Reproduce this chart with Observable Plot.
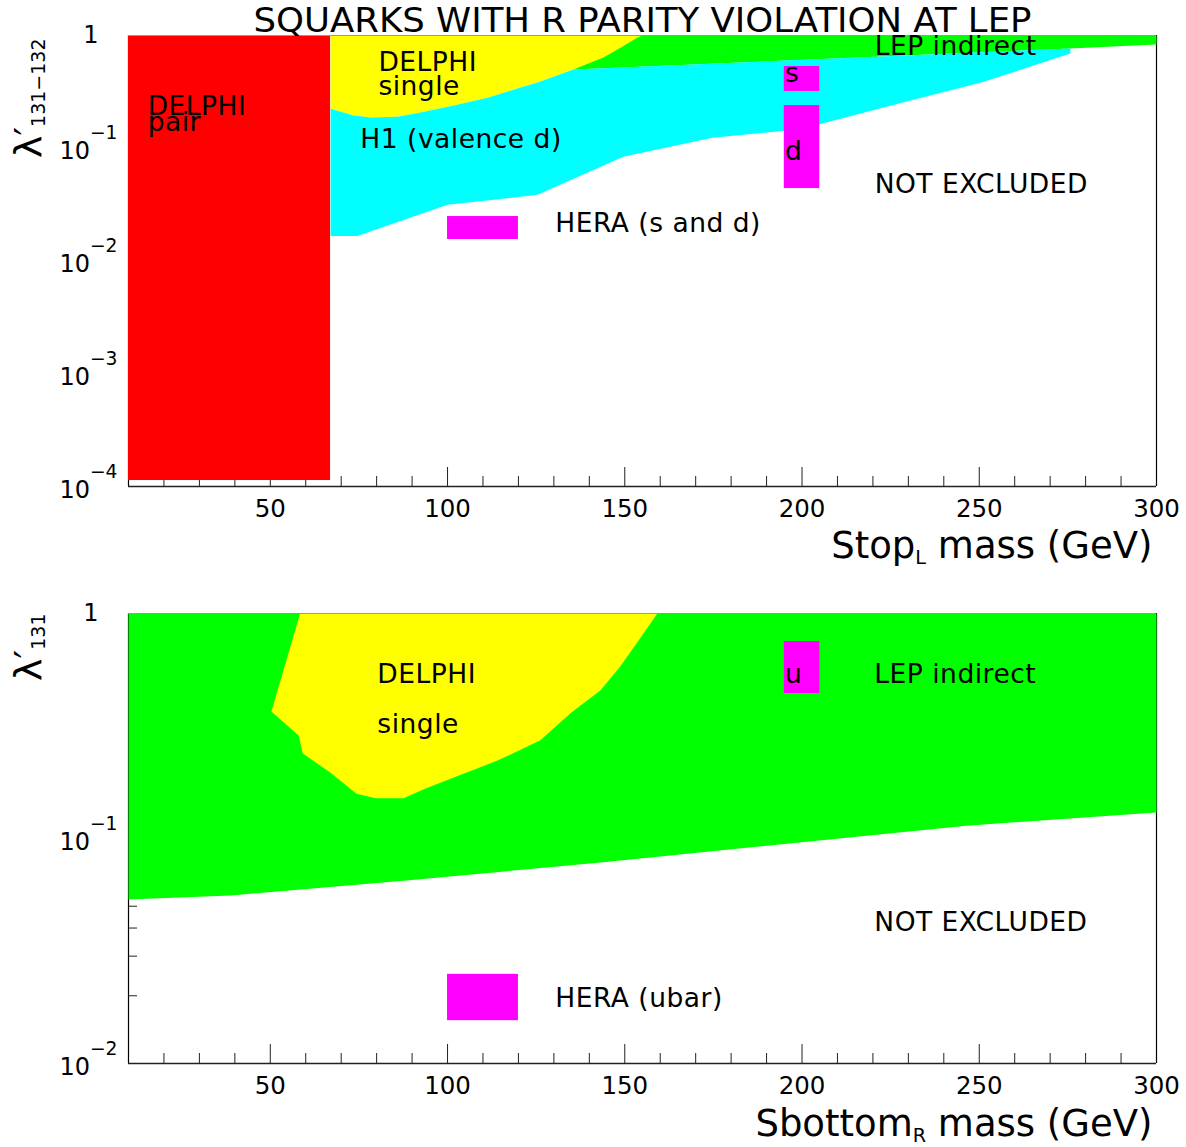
<!DOCTYPE html>
<html><head><meta charset="utf-8">
<script src="https://cdn.jsdelivr.net/npm/d3@7"></script>
<script src="https://cdn.jsdelivr.net/npm/@observablehq/plot@0.6"></script>
<style>
html,body{margin:0;padding:0;background:#fff;}
#chart{width:1186px;height:1147px;position:relative;background:#fff;}
#chart svg{display:block;}
</style></head><body><div id="chart"></div>
<script>
// ---------- data ----------
const title = "SQUARKS WITH R PARITY VIOLATION AT LEP";
const massTicksMajor = [50, 100, 150, 200, 250, 300];
const massTicksMinor = [20, 30, 40, 60, 70, 80, 90, 110, 120, 130, 140, 160, 170, 180, 190, 210, 220, 230, 240, 260, 270, 280, 290];

const topYTickValues = [1e-4, 1e-3, 1e-2, 1e-1];
const topYTickLabels = ["10^{−4}", "10^{−3}", "10^{−2}", "10^{−1}"];
const topYMajor = [1e-4, 1e-3, 1e-2, 1e-1, 1];

const botYTickValues = [1e-2, 1e-1];
const botYTickLabels = ["10^{−2}", "10^{−1}"];
const botYMajor = [1e-2, 1e-1, 1];
const botYMinor = [0.02, 0.03, 0.04, 0.05, 0.06, 0.07, 0.08, 0.09, 0.2, 0.3, 0.4, 0.5, 0.6, 0.7, 0.8, 0.9];

// top panel (stop_L): exclusion regions [mass GeV, lambda']
const delphiPairTop = [{m1: 10, m2: 67, l1: 1.13e-4, l2: 1}];
const lepIndirectTop = [[135.5, 0.499], [275.7, 0.766], [300, 0.832], [300, 1], [135.5, 1]];
const delphiSingleTop = [[67, 1], [67, 0.224], [73.5, 0.195], [78.3, 0.187], [85.9, 0.19], [92.4, 0.207],
  [101.7, 0.239], [111.3, 0.281], [120.6, 0.345], [125.4, 0.382], [135.5, 0.499], [144, 0.637],
  [148.8, 0.78], [153.6, 0.96], [155, 1]];
const h1ValenceTop = [[67, 0.224], [73.5, 0.195], [78.3, 0.187], [85.9, 0.19], [92.4, 0.207],
  [101.7, 0.239], [111.3, 0.281], [120.6, 0.345], [125.4, 0.382], [135.5, 0.499], [275.7, 0.766],
  [275.7, 0.692], [250.6, 0.382], [230.3, 0.264], [205.5, 0.165], [195, 0.143], [174.7, 0.124],
  [149.6, 0.084], [125.4, 0.0386], [100, 0.0315], [74.6, 0.0167], [67, 0.0167]];
const heraTop = [
  {m1: 100, m2: 120, l1: 0.0155, l2: 0.0248},
  {m1: 195, m2: 205, l1: 0.319, l2: 0.531},
  {m1: 195, m2: 205, l1: 0.0439, l2: 0.239}
];
const topNotes = [
  {text: "DELPHI", m: 15.4, l: 0.1953},
  {text: "pair", m: 15.4, l: 0.1434},
  {text: "DELPHI", m: 80.5, l: 0.489},
  {text: "single", m: 80.5, l: 0.294},
  {text: "H1 (valence d)", m: 75.4, l: 0.0995},
  {text: "HERA (s and d)", m: 130.4, l: 0.0179},
  {text: "s", m: 195.2, l: 0.383},
  {text: "d", m: 195.2, l: 0.0779},
  {text: "LEP indirect", m: 220.5, l: 0.665},
  {text: "NOT EXCLUDED", m: 220.5, l: 0.0397}
];

// bottom panel (sbottom_R)
const lepIndirectBottom = [[10, 1], [300, 1], [300, 0.1306], [246.4, 0.114], [143.2, 0.0782],
  [88.4, 0.0651], [38.8, 0.0558], [10, 0.0535]];
const delphiSingleBottom = [[58.4, 1], [50.3, 0.367], [58, 0.287], [59.1, 0.239], [67, 0.196],
  [74.3, 0.158], [79.7, 0.151], [87.6, 0.151], [93.8, 0.167], [103.4, 0.191], [114.1, 0.222],
  [126.2, 0.273], [134.7, 0.36], [137.5, 0.39], [143.1, 0.455], [148.5, 0.575], [153.9, 0.759],
  [159.2, 1]];
const heraBottom = [
  {m1: 100, m2: 120, l1: 0.0155, l2: 0.0249},
  {m1: 195, m2: 205, l1: 0.441, l2: 0.751}
];
const bottomNotes = [
  {text: "DELPHI", m: 80.2, l: 0.489},
  {text: "single", m: 80.2, l: 0.294},
  {text: "u", m: 195.2, l: 0.489},
  {text: "LEP indirect", m: 220.4, l: 0.489},
  {text: "NOT EXCLUDED", m: 220.4, l: 0.039},
  {text: "HERA (ubar)", m: 130.4, l: 0.0179}
];

// ---------- helpers ----------
const FONT = "DejaVu Sans";
const RED = "#ff0000", YELLOW = "#ffff00", CYAN = "#00ffff", GREEN = "#00ff00", MAGENTA = "#ff00ff";
const poly = (pts, fill) => Plot.line(pts, {x: d => d[0], y: d => d[1], fill, stroke: "none", curve: "linear-closed"});
const boxes = (data, fill) => Plot.rect(data, {x1: "m1", x2: "m2", y1: "l1", y2: "l2", fill});
const notes = (data) => Plot.text(data, {x: "m", y: "l", text: "text", textAnchor: "start", lineAnchor: "bottom", fontSize: 26.5, fill: "black"});
const noteTexts = new Set([...topNotes, ...bottomNotes].map(d => d.text));
const xAxisMarks = () => [
  Plot.axisX(massTicksMinor, {tickSize: 10, dy: -10, tickFormat: () => "", label: null, stroke: "#222"}),
  Plot.axisX(massTicksMajor, {tickSize: 19, dy: -19, tickFormat: () => "", label: null, stroke: "#222"}),
  Plot.axisX(massTicksMajor, {tickSize: 0, tickPadding: 13, fontSize: 24.5, label: null})
];
const frameMarks = (yBottom) => [
  Plot.ruleX([10, 300], {stroke: "black", strokeWidth: 1.2}),
  Plot.ruleY([yBottom], {stroke: "#222", strokeWidth: 1.5})
];
const yLabels = (values, labels) => Plot.text(values, {y: d => d, text: (d, i) => labels[i], frameAnchor: "left", textAnchor: "end", lineAnchor: "bottom", dx: -11, dy: 11, fontSize: 24});
const yOne = () => Plot.text([1], {y: d => d, text: () => "1", frameAnchor: "left", textAnchor: "end", dx: -30, fontSize: 24});

function richText(svg) {
  svg.querySelectorAll("text").forEach(t => {
    const s = t.textContent;
    if (s === title) {
      t.setAttribute("textLength", 778);
      t.setAttribute("lengthAdjust", "spacingAndGlyphs");
      return;
    }
    if (noteTexts.has(s)) { t.setAttribute("letter-spacing", "0.5"); return; }
    if (!/[_^]\{/.test(s)) return;
    const fs = parseFloat(getComputedStyle(t).fontSize) || 16;
    const isLambda = s.startsWith("λ");
    while (t.firstChild) t.removeChild(t.firstChild);
    const re = /([_^])\{([^}]*)\}/g;
    let idx = 0, m, cur = 0;
    const mk = (str, dy, size) => {
      const ts = document.createElementNS("http://www.w3.org/2000/svg", "tspan");
      ts.textContent = str;
      if (dy) ts.setAttribute("dy", dy);
      if (size) ts.setAttribute("font-size", size);
      t.appendChild(ts);
    };
    while ((m = re.exec(s))) {
      if (m.index > idx) { mk(s.slice(idx, m.index), -cur, null); cur = 0; }
      const sup = m[1] === "^";
      const target = sup ? -0.83 * fs : (isLambda ? 0.12 : 0.17) * fs;
      const size = sup ? 0.78 : (isLambda ? 0.5 : 0.52);
      mk(m[2], target - cur, size * fs);
      cur = target;
      idx = re.lastIndex;
    }
    if (idx < s.length) mk(s.slice(idx), -cur, null);
  });
}

// ---------- top panel ----------
const topPlot = Plot.plot({
  width: 1186, height: 575,
  marginLeft: 128, marginRight: 30, marginTop: 35, marginBottom: 89,
  style: {fontFamily: FONT, color: "black", background: "white", overflow: "visible"},
  x: {domain: [10, 300]},
  y: {type: "log", domain: [1e-4, 1]},
  marks: [
    Plot.axisY(topYMajor, {anchor: "left", tickSize: 19, dx: 19, tickFormat: () => "", label: null}),
    ...xAxisMarks(),
    ...frameMarks(1e-4),
    poly(lepIndirectTop, GREEN),
    poly(delphiSingleTop, YELLOW),
    poly(h1ValenceTop, CYAN),
    boxes(delphiPairTop, RED),
    boxes(heraTop, MAGENTA),
    Plot.ruleY([1], {stroke: "#999", strokeWidth: 1}),
    yLabels(topYTickValues, topYTickLabels),
    yOne(),
    notes(topNotes),
    Plot.text([title], {text: d => d, frameAnchor: "top", lineAnchor: "bottom", dy: -4, fontSize: 34}),
    Plot.text(["Stop_{L} mass (GeV)"], {text: d => d, frameAnchor: "bottom-right", textAnchor: "end", lineAnchor: "bottom", dx: -4, dy: 71, fontSize: 37}),
    Plot.text(["λ′_{131−132}"], {text: d => d, frameAnchor: "top-left", rotate: -90, textAnchor: "end", lineAnchor: "bottom", dx: -88, dy: 3, fontSize: 38})
  ]
});

// ---------- bottom panel ----------
const botPlot = Plot.plot({
  width: 1186, height: 572,
  marginLeft: 128, marginRight: 30, marginTop: 38, marginBottom: 84,
  style: {fontFamily: FONT, color: "black", background: "white", overflow: "visible"},
  x: {domain: [10, 300]},
  y: {type: "log", domain: [1e-2, 1]},
  marks: [
    Plot.axisY(botYMinor, {anchor: "left", tickSize: 9, dx: 9, tickFormat: () => "", label: null, stroke: "#222"}),
    Plot.axisY(botYMajor, {anchor: "left", tickSize: 19, dx: 19, tickFormat: () => "", label: null, stroke: "#222"}),
    ...xAxisMarks(),
    ...frameMarks(1e-2),
    poly(lepIndirectBottom, GREEN),
    poly(delphiSingleBottom, YELLOW),
    boxes(heraBottom, MAGENTA),
    Plot.ruleY([1], {stroke: "#999", strokeWidth: 1}),
    yLabels(botYTickValues, botYTickLabels),
    yOne(),
    notes(bottomNotes),
    Plot.text(["Sbottom_{R} mass (GeV)"], {text: d => d, frameAnchor: "bottom-right", textAnchor: "end", lineAnchor: "bottom", dx: -4, dy: 72, fontSize: 37}),
    Plot.text(["λ′_{131}"], {text: d => d, frameAnchor: "top-left", rotate: -90, textAnchor: "end", lineAnchor: "bottom", dx: -88, fontSize: 38})
  ]
});

const chart = document.getElementById("chart");
chart.appendChild(topPlot);
chart.appendChild(botPlot);
richText(topPlot);
richText(botPlot);
</script></body></html>
